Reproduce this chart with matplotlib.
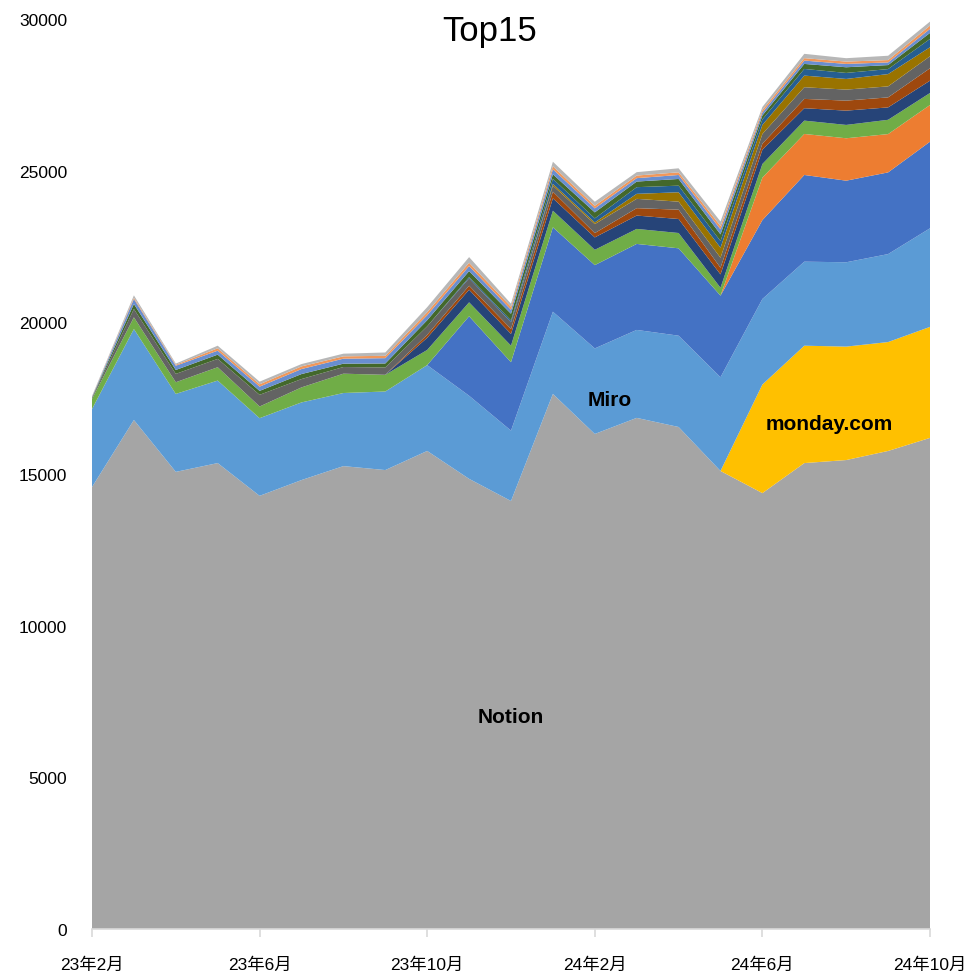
import matplotlib
matplotlib.use("Agg")
import matplotlib.pyplot as plt
import numpy as np

plt.rcParams['font.family'] = ['Liberation Sans', 'Noto Sans CJK JP', 'DejaVu Sans']

months = ["23年2月", "23年3月", "23年4月", "23年5月", "23年6月", "23年7月", "23年8月",
          "23年9月", "23年10月", "23年11月", "23年12月", "24年1月", "24年2月", "24年3月",
          "24年4月", "24年5月", "24年6月", "24年7月", "24年8月", "24年9月", "24年10月"]

notion = [14570, 16780, 15070, 15360, 14280, 14800, 15260, 15130, 15760, 14840, 14110,
          17640, 16320, 16850, 16550, 15100, 14370, 15360, 15460, 15760, 16190]
monday = [0, 0, 0, 0, 0, 0, 0, 0, 0, 0, 0, 0, 0, 0, 0, 0, 3580, 3870, 3740, 3590, 3660]
miro = [2570, 3000, 2570, 2720, 2560, 2560, 2410, 2590, 2830, 2740, 2320,
        2710, 2820, 2900, 3010, 3090, 2820, 2770, 2780, 2900, 3250]
s4 = [0, 0, 0, 0, 0, 0, 0, 0, 0, 2620, 2255, 2783, 2746, 2835, 2880, 2690, 2600, 2858, 2690, 2693, 2855]
s5 = [0, 0, 0, 0, 0, 0, 0, 0, 0, 0, 0, 0, 0, 0, 0, 0, 1400, 1352, 1398, 1263, 1210]
s6 = [330, 385, 385, 440, 385, 495, 637, 550, 500, 460, 547, 547, 505, 495, 505, 260, 450, 440, 440, 471, 396]
s7 = [0, 0, 0, 0, 0, 0, 0, 0, 400, 415, 385, 409, 409, 440, 462, 440, 470, 409, 471, 409, 406]
s8 = [0, 0, 0, 0, 0, 0, 0, 0, 100, 132, 165, 218, 142, 244, 307, 220, 200, 307, 330, 330, 409]
s9 = [30, 275, 275, 275, 385, 275, 220, 242, 280, 244, 220, 198, 297, 307, 264, 330, 320, 385, 363, 363, 396]
s10 = [0, 0, 0, 0, 0, 0, 0, 0, 0, 0, 0, 60, 56, 165, 310, 330, 300, 383, 352, 405, 297]
s11 = [0, 0, 0, 0, 0, 0, 0, 0, 0, 40, 60, 165, 132, 220, 218, 220, 180, 220, 198, 165, 274]
s12 = [20, 165, 130, 140, 130, 165, 110, 132, 200, 198, 220, 150, 198, 185, 220, 220, 130, 165, 187, 132, 198]
s13 = [20, 165, 140, 130, 140, 165, 165, 175, 165, 165, 132, 165, 132, 112, 132, 165, 100, 110, 110, 88, 132]
s14 = [10, 40, 30, 80, 77, 88, 77, 77, 100, 110, 100, 100, 86, 86, 88, 110, 80, 80, 77, 77, 110]
s15 = [20, 80, 40, 85, 88, 77, 88, 110, 165, 187, 100, 150, 132, 112, 132, 150, 100, 143, 112, 143, 132]

series_names = ["Notion", "monday.com", "Miro", "S4", "S5", "S6", "S7", "S8", "S9",
                "S10", "S11", "S12", "S13", "S14", "S15"]
series_values = [notion, monday, miro, s4, s5, s6, s7, s8, s9, s10, s11, s12, s13, s14, s15]
colors = ['#A5A5A5', '#FFC000', '#5B9BD5', '#4472C4', '#ED7D31', '#70AD47', '#264478',
          '#9E480E', '#636363', '#997300', '#255E91', '#43682B', '#698ED0', '#F1975A', '#B7B7B7']

tick_idx = [0, 4, 8, 12, 16, 20]

fig = plt.figure(figsize=(9.75, 9.78), dpi=100)
ax = fig.add_axes([92/975, 1-930/978, (930-92)/975, (930-20)/978])

x = np.arange(len(months))
ax.stackplot(x, *series_values, colors=colors, labels=series_names, linewidth=0)

ax.set_xlim(0, len(months)-1)
ax.set_ylim(0, 30000)
ax.set_yticks(np.arange(0, 30001, 5000))
ax.set_xticks(tick_idx)
ax.set_xticklabels([months[i] for i in tick_idx])

for s in ['top', 'right', 'left']:
    ax.spines[s].set_visible(False)
ax.spines['bottom'].set_color('#D9D9D9')
ax.spines['bottom'].set_linewidth(1.2)
ax.tick_params(axis='x', direction='out', length=6, color='#D9D9D9', width=1.2,
               labelsize=12.5, pad=14, labelcolor='black')
ax.tick_params(axis='y', length=0, labelsize=12.5, pad=18, labelcolor='black')

# labels
ax.text(10, 7000, "Notion", fontsize=15, fontweight='bold', ha='center', va='center')
ax.text(12.35, 17440, "Miro", fontsize=15, fontweight='bold', ha='center', va='center')
ax.text(17.6, 16680, "monday.com", fontsize=15, fontweight='bold', ha='center', va='center')

fig.text(490/975, 1-31/978, "Top15", fontsize=25, ha='center', va='center')

fig.savefig("out.png", dpi=100, facecolor='white')
